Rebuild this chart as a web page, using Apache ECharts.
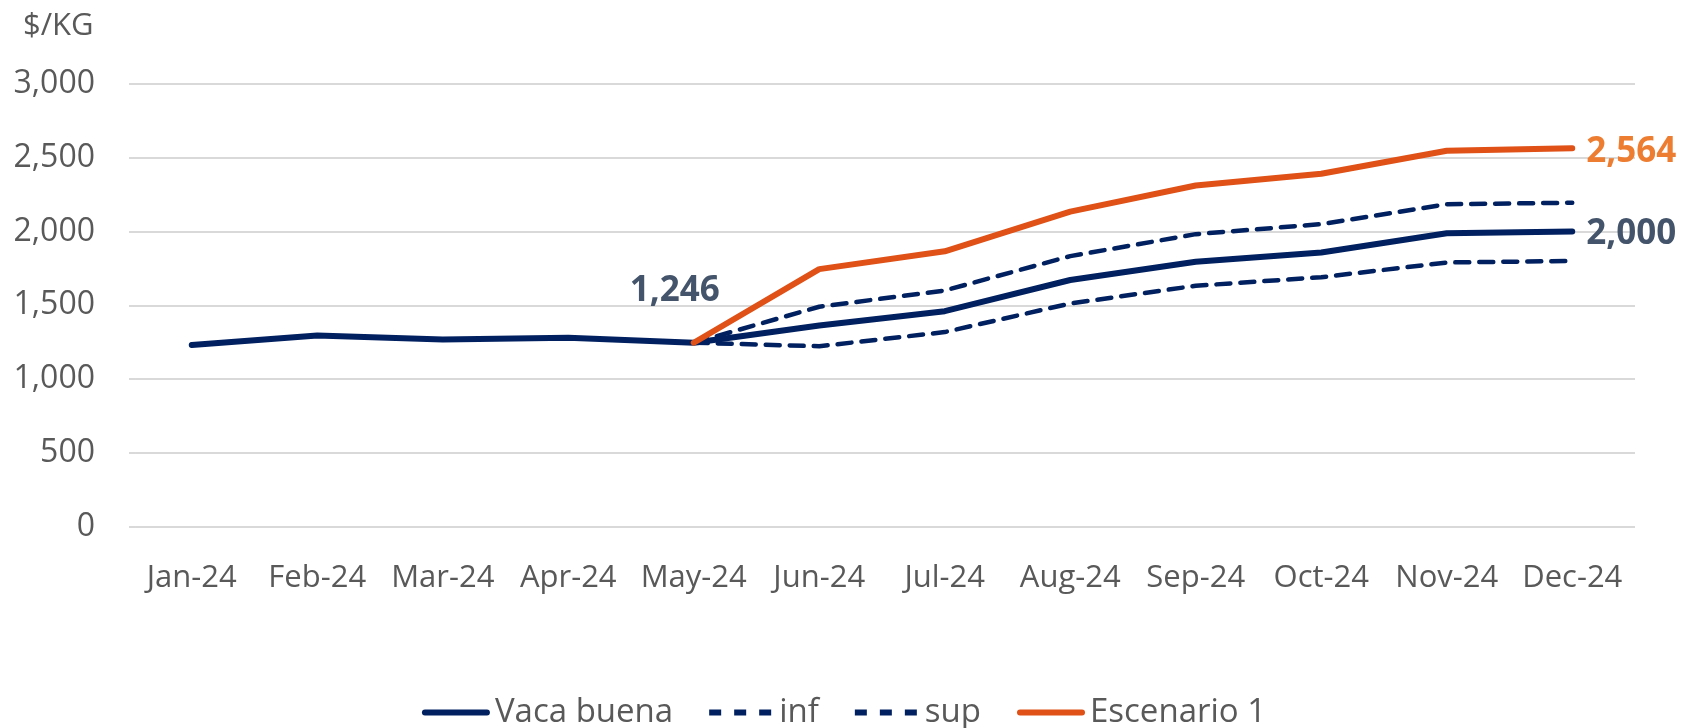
<!DOCTYPE html>
<html>
<head>
<meta charset="utf-8">
<script src="https://cdn.jsdelivr.net/npm/echarts@6/dist/echarts.min.js"></script>
<style>
  html, body { margin: 0; padding: 0; background: #ffffff; }
  #chart { width: 1688px; height: 728px; }
</style>
</head>
<body>
<div id="chart"></div>
<script>
const categories = ['Jan-24','Feb-24','Mar-24','Apr-24','May-24','Jun-24','Jul-24','Aug-24','Sep-24','Oct-24','Nov-24','Dec-24'];
const vacaBuena  = [1230, 1295, 1268, 1280, 1246, 1363, 1460, 1671, 1795, 1858, 1988, 2000];
const inf        = [null, null, null, null, 1246, 1222, 1318, 1512, 1632, 1690, 1790, 1800];
const sup        = [null, null, null, null, 1246, 1490, 1600, 1833, 1982, 2050, 2185, 2195];
const escenario1 = [null, null, null, null, 1246, 1745, 1866, 2135, 2312, 2392, 2547, 2564];
const yTicks = [0, 500, 1000, 1500, 2000, 2500, 3000];

const FONT = '"Open Sans", sans-serif';
const NAVY = '#002060';
const ORANGE = '#DF5117';
const fmt = v => Number(v).toLocaleString('en-US');
const SOLID_ICON = 'path://M3,0 L65,0 A3,3 0 0 1 65,6 L3,6 A3,3 0 0 1 3,0 Z';
const DASH_ICON = 'path://M0,0 L12,0 L12,6 L0,6 Z M25,0 L37,0 L37,6 L25,6 Z M50,0 L62,0 L62,6 L50,6 Z';

const chart = echarts.init(document.getElementById('chart'), null, { renderer: 'canvas' });
chart.setOption({
  animation: false,
  backgroundColor: '#ffffff',
  title: {
    text: '$/KG', left: 18, top: 6,
    textStyle: { fontFamily: FONT, fontSize: 31, fontWeight: 'normal', color: '#595959' }
  },
  grid: { left: 129, right: 53, top: 84, bottom: 201.5, containLabel: false },
  xAxis: {
    type: 'category', data: categories, boundaryGap: true,
    axisLine: { show: false }, axisTick: { show: false },
    axisLabel: { margin: 36, fontFamily: FONT, fontSize: 31, color: '#595959', interval: 0 }
  },
  yAxis: {
    type: 'value', min: yTicks[0], max: yTicks[yTicks.length - 1], interval: 500,
    axisLine: { show: false }, axisTick: { show: false },
    splitLine: { lineStyle: { color: '#D9D9D9', width: 2 } },
    axisLabel: { margin: 34, fontFamily: FONT, fontSize: 32, color: '#595959', formatter: fmt }
  },
  legend: {
    bottom: -6, left: 'center', itemWidth: 68, itemHeight: 6, itemGap: 36,
    textStyle: { fontFamily: FONT, fontSize: 33, color: '#595959', padding: [0, 0, 0, 0] },
    data: [
      { name: 'Vaca buena', icon: SOLID_ICON },
      { name: 'inf', icon: DASH_ICON },
      { name: 'sup', icon: DASH_ICON },
      { name: 'Escenario 1', icon: SOLID_ICON }
    ]
  },
  series: [
    {
      name: 'inf', type: 'line', data: inf, symbol: 'none', z: 2,
      lineStyle: { color: NAVY, width: 4.5, type: [14, 10], cap: 'round' },
      itemStyle: { color: NAVY }
    },
    {
      name: 'sup', type: 'line', data: sup, symbol: 'none', z: 2,
      lineStyle: { color: NAVY, width: 4.5, type: [14, 10], cap: 'round' },
      itemStyle: { color: NAVY }
    },
    {
      name: 'Vaca buena', type: 'line', data: vacaBuena, symbol: 'none', z: 3,
      lineStyle: { color: NAVY, width: 6, cap: 'round', join: 'round' },
      itemStyle: { color: NAVY },
      endLabel: {
        show: true, distance: 14, offset: [0, 3], formatter: p => fmt(p.value),
        fontFamily: FONT, fontSize: 35, fontWeight: 'bold', color: '#44546A'
      },
      markPoint: {
        symbol: 'circle', symbolSize: 0,
        data: [{ coord: [categories[4], vacaBuena[4]], value: vacaBuena[4] }],
        label: {
          show: true, position: 'inside', offset: [-19, -52],
          formatter: p => fmt(p.value),
          fontFamily: FONT, fontSize: 35, fontWeight: 'bold', color: '#44546A'
        }
      }
    },
    {
      name: 'Escenario 1', type: 'line', data: escenario1, symbol: 'none', z: 4,
      lineStyle: { color: ORANGE, width: 6, cap: 'round', join: 'round' },
      itemStyle: { color: ORANGE },
      endLabel: {
        show: true, distance: 14, offset: [0, 4], formatter: p => fmt(p.value),
        fontFamily: FONT, fontSize: 35, fontWeight: 'bold', color: '#ED7D31'
      }
    }
  ]
});
</script>
</body>
</html>
